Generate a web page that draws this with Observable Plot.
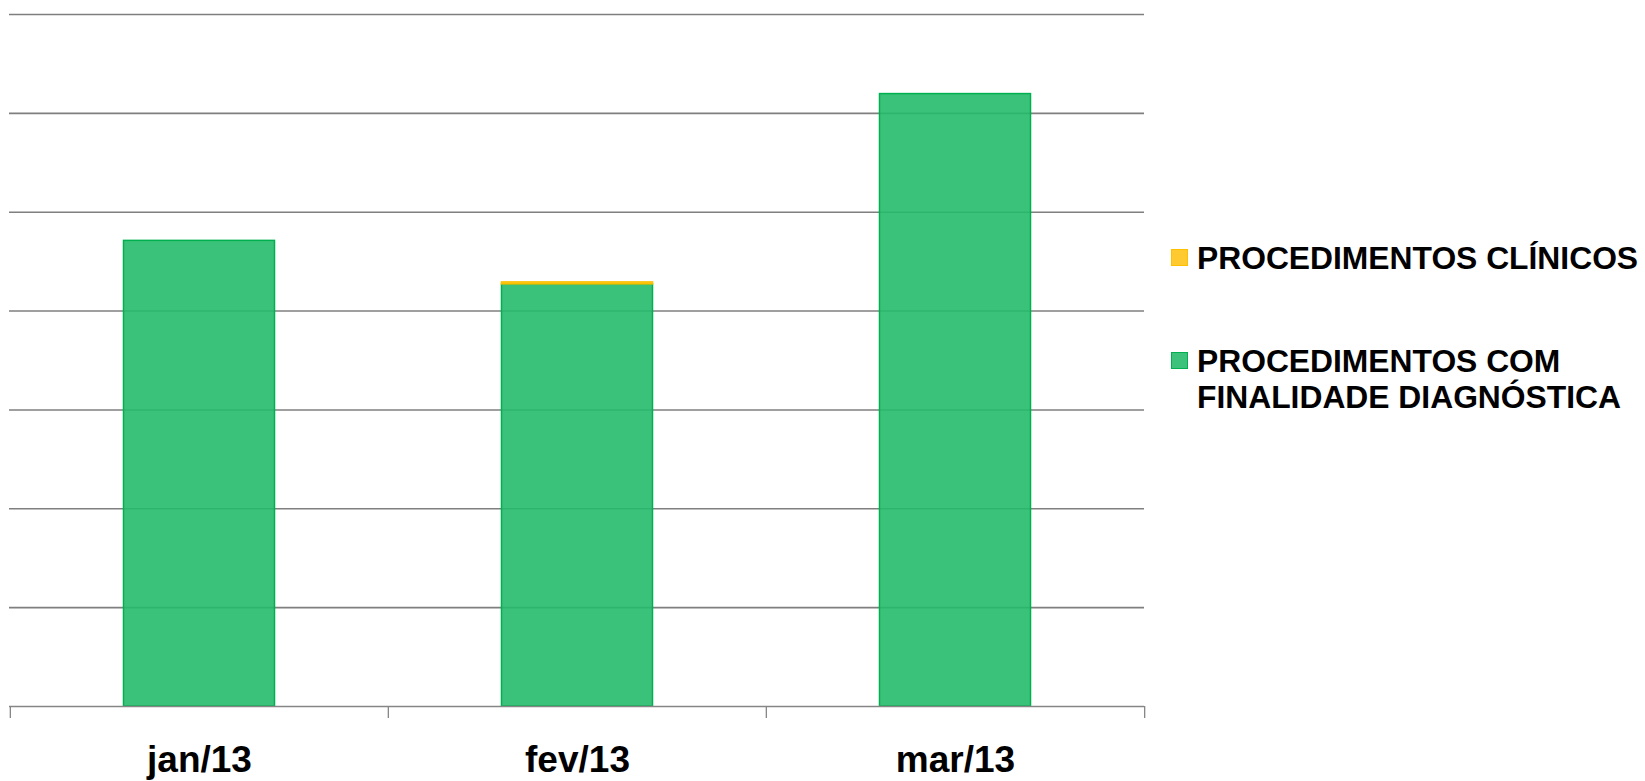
<!DOCTYPE html>
<html><head><meta charset="utf-8">
<script src="https://cdn.jsdelivr.net/npm/d3@7"></script>
<script src="https://cdn.jsdelivr.net/npm/@observablehq/plot@0.6"></script>
<style>
body{margin:0;background:#fff;}
#wrap{position:relative;width:1645px;height:781px;font-family:"Liberation Sans",Arial,sans-serif;}
.lg{position:absolute;font-weight:bold;font-size:31.8px;line-height:36.4px;color:#000;white-space:nowrap;}
.sw{position:absolute;width:15px;height:15px;border:1.5px solid;box-sizing:content-box;}
</style></head><body><div id="wrap"></div>
<script>
const months = ["jan/13", "fev/13", "mar/13"];
const seriesNames = ["PROCEDIMENTOS COM FINALIDADE DIAGNÓSTICA", "PROCEDIMENTOS CLÍNICOS"];
const diagnostica = [4710, 4270, 6195];
const clinicos = [0, 20, 0];
const gridTicks = [1000, 2000, 3000, 4000, 5000, 6000, 7000];

const fillColors = {"PROCEDIMENTOS COM FINALIDADE DIAGNÓSTICA": "#26bb6b", "PROCEDIMENTOS CLÍNICOS": "#ffc410"};
const strokeColors = {"PROCEDIMENTOS COM FINALIDADE DIAGNÓSTICA": "#00b050", "PROCEDIMENTOS CLÍNICOS": "#ffc000"};
const swatchFill = {"PROCEDIMENTOS COM FINALIDADE DIAGNÓSTICA": "#3cc27a", "PROCEDIMENTOS CLÍNICOS": "#ffca30"};

const rows = months.flatMap((m, i) => [
  {month: m, series: seriesNames[0], value: diagnostica[i]},
  {month: m, series: seriesNames[1], value: clinicos[i]}
]);

const W = 1645, H = 781, mL = 9, mR = 501, mT = 14, mB = 75;
const bw = (W - mL - mR) / months.length;

const chart = Plot.plot({
  width: W, height: H,
  marginLeft: mL, marginRight: mR, marginTop: mT, marginBottom: mB,
  style: {fontFamily: "'Liberation Sans', Arial, sans-serif", color: "#000", background: "#fff"},
  x: {domain: months, padding: 0},
  y: {domain: [0, 7000], axis: null},
  marks: [
    Plot.ruleY(gridTicks, {stroke: "#7f7f7f", strokeWidth: 1.6}),
    Plot.barY(rows, Plot.stackY({
      x: "month", y: "value",
      fill: d => fillColors[d.series],
      stroke: d => strokeColors[d.series],
      strokeWidth: 1.5,
      fillOpacity: 0.9,
      insetLeft: bw * 0.3, insetRight: bw * 0.3
    })),
    Plot.ruleY([0], {stroke: "#868686", strokeWidth: 1.6}),
    Plot.ruleX(months, {x: d => d, dx: -bw / 2, y1: 0, y2: 0, insetBottom: -12, stroke: "#868686", strokeWidth: 1.3}),
    Plot.ruleX([months[months.length - 1]], {x: d => d, dx: bw / 2, y1: 0, y2: 0, insetBottom: -12, stroke: "#868686", strokeWidth: 1.3}),
    Plot.axisX({tickSize: 0, tickPadding: 39, fontSize: 37, fontWeight: "bold", label: null, fill: "#000"})
  ]
});

const wrap = document.getElementById("wrap");
wrap.appendChild(chart);

const legendItems = [
  {name: seriesNames[1], lines: ["PROCEDIMENTOS CLÍNICOS"], top: 240, swTop: 249},
  {name: seriesNames[0], lines: ["PROCEDIMENTOS COM", "FINALIDADE DIAGNÓSTICA"], top: 342.5, swTop: 351.5}
];
legendItems.forEach(it => {
  const sw = document.createElement("div");
  sw.className = "sw";
  sw.style.left = "1171px";
  sw.style.top = it.swTop + "px";
  sw.style.background = swatchFill[it.name];
  sw.style.borderColor = strokeColors[it.name];
  wrap.appendChild(sw);
  const t = document.createElement("div");
  t.className = "lg";
  t.style.left = "1197px";
  t.style.top = it.top + "px";
  t.innerHTML = it.lines.join("<br>");
  wrap.appendChild(t);
});
chart.style.position = "absolute";
chart.style.left = "0";
chart.style.top = "0";
</script>
</body></html>
